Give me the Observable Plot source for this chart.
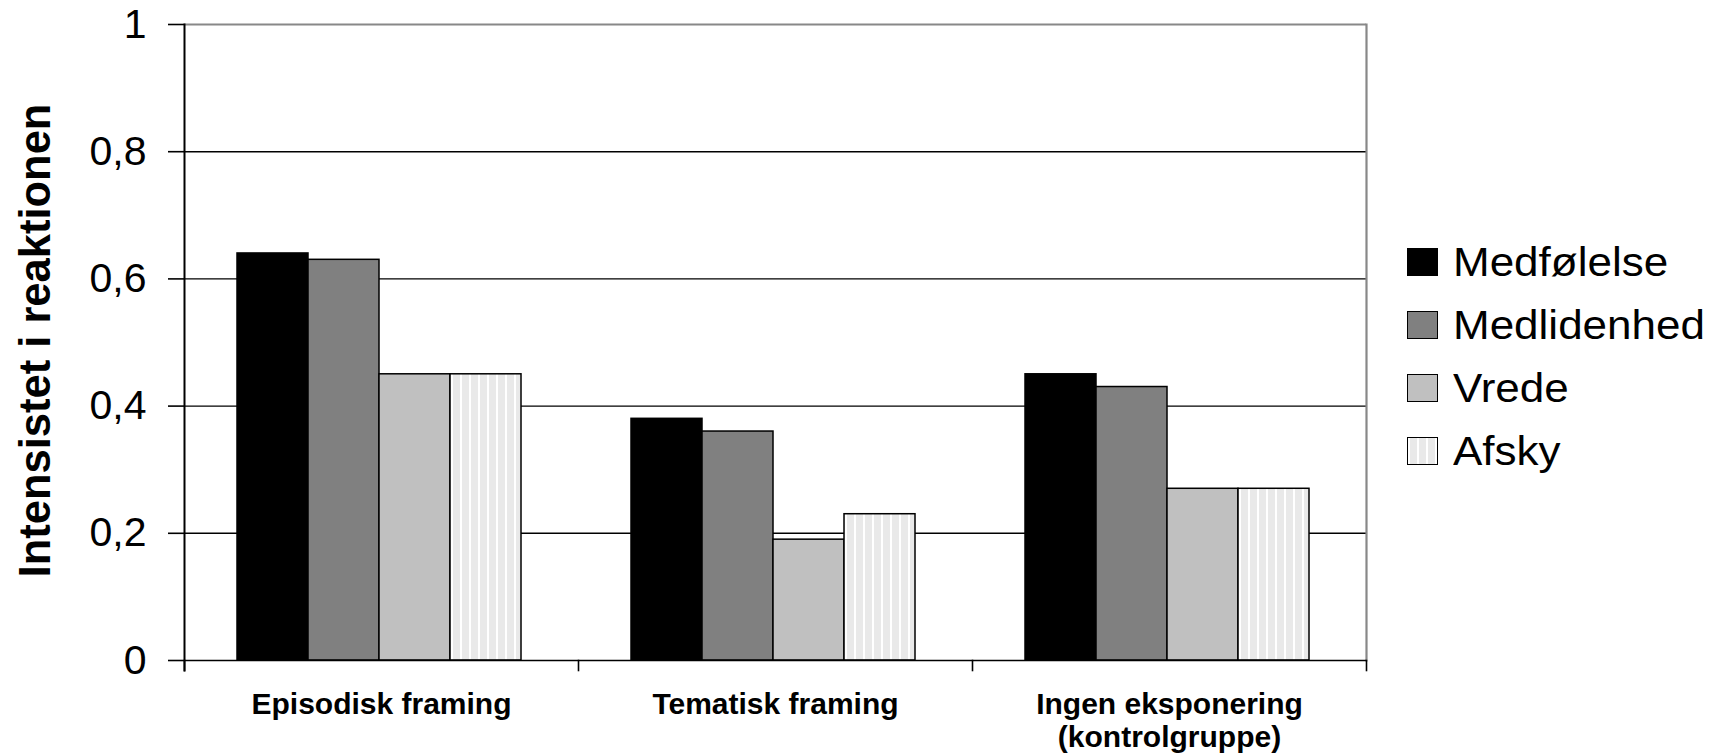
<!DOCTYPE html>
<html><head><meta charset="utf-8">
<script src="https://cdn.jsdelivr.net/npm/d3@7"></script>
<script src="https://cdn.jsdelivr.net/npm/@observablehq/plot@0.6"></script>
<style>
body{margin:0;background:#fff;font-family:"Liberation Sans",Arial,sans-serif;}
#wrap{position:relative;width:1727px;height:756px;overflow:hidden;}
#legend{position:absolute;left:1407px;top:230px;}
.item{display:flex;align-items:center;height:63px;}
.sw{width:31px;height:28px;border:1.5px solid #000;box-sizing:border-box;margin-right:15px;flex:none;}
.lab{font-size:40px;line-height:1;transform:scaleX(1.1);transform-origin:left center;white-space:nowrap;color:#000;}
</style></head>
<body><div id="wrap"></div>
<script>
const categories = ["Episodisk framing", "Tematisk framing", "Ingen eksponering\n(kontrolgruppe)"];
const series = ["Medfølelse", "Medlidenhed", "Vrede", "Afsky"];
const medfolelse = [0.64, 0.38, 0.45];
const medlidenhed = [0.63, 0.36, 0.43];
const vrede = [0.45, 0.19, 0.27];
const afsky = [0.45, 0.23, 0.27];
const yTicks = [0, 0.2, 0.4, 0.6, 0.8, 1];
const gridValues = [0.2, 0.4, 0.6, 0.8];
const topValue = [1];
const yLabel = "Intensistet i reaktionen";
const colors = ["#000000", "#808080", "#c0c0c0", "url(#afsky)"];
const legendSwatches = ["#000000", "#808080", "#c0c0c0",
  "repeating-linear-gradient(90deg,#ffffff 0 2px,#e9e9e9 2px 9px)"];

const valuesBySeries = [medfolelse, medlidenhed, vrede, afsky];
const data = [];
categories.forEach((c, i) => series.forEach((s, j) => data.push({category: c, series: s, value: valuesBySeries[j][i]})));

const plotH = 636;
const chart = Plot.plot({
  width: 1727,
  height: 756,
  marginTop: 24,
  marginBottom: 96,
  marginLeft: 183,
  marginRight: 361,
  style: {fontFamily: "'Liberation Sans', Arial, sans-serif", background: "white", color: "black"},
  fx: {domain: categories, padding: 0},
  x: {domain: series, paddingInner: 0, paddingOuter: 0.748, align: 0.485, axis: null},
  y: {domain: [0, 1]},
  color: {domain: series, range: colors},
  marks: [
    Plot.ruleY(gridValues, {stroke: "black", strokeWidth: 1.4}),
    Plot.ruleY(topValue, {stroke: "#888888", strokeWidth: 2.2}),
    Plot.frame({anchor: "right", facetAnchor: "right", stroke: "#888888", strokeWidth: 2.2}),
    Plot.barY(data, {fx: "category", x: "series", y: "value", fill: "series", stroke: "black", strokeWidth: 1.5}),
    Plot.ruleY([0], {stroke: "black", strokeWidth: 1.6}),
    Plot.frame({anchor: "left", facetAnchor: "left", stroke: "black", strokeWidth: 2, insetBottom: -10}),
    Plot.frame({anchor: "left", stroke: "black", strokeWidth: 1.6, insetTop: plotH, insetBottom: -10}),
    Plot.frame({anchor: "right", facetAnchor: "right", stroke: "black", strokeWidth: 1.6, insetTop: plotH, insetBottom: -10}),
    Plot.axisY({ticks: yTicks, tickSize: 16, tickPadding: 22, fontSize: 41, strokeWidth: 1.6,
      tickFormat: d => String(d).replace(".", ","), label: null}),
    Plot.axisFx({anchor: "bottom", tickSize: 0, tickPadding: 29, fontSize: 30, fontWeight: "bold",
      lineHeight: 1.13, label: null}),
    Plot.text([yLabel], {text: d => d, frameAnchor: "left", facetAnchor: "left", textAnchor: "middle",
      dx: -148, dy: -2, rotate: -90, fontSize: 43.5, fontWeight: "bold", fill: "black"})
  ]
});

d3.select(chart).insert("defs", ":first-child").html(
  '<pattern id="afsky" patternUnits="userSpaceOnUse" width="9" height="10">' +
  '<rect width="9" height="10" fill="#e9e9e9"></rect>' +
  '<rect width="2" height="10" fill="#ffffff"></rect></pattern>');

const wrap = document.getElementById("wrap");
wrap.appendChild(chart);

const legend = document.createElement("div");
legend.id = "legend";
series.forEach((s, i) => {
  const item = document.createElement("div");
  item.className = "item";
  const sw = document.createElement("div");
  sw.className = "sw";
  sw.style.background = legendSwatches[i];
  const lab = document.createElement("span");
  lab.className = "lab";
  lab.textContent = s;
  item.appendChild(sw);
  item.appendChild(lab);
  legend.appendChild(item);
});
wrap.appendChild(legend);
</script>
</body></html>
